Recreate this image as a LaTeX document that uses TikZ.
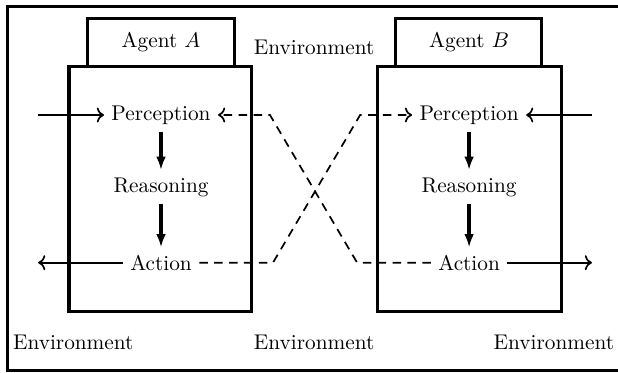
\documentclass[tikz,border=0pt]{standalone}
\usetikzlibrary{arrows.meta}
\begin{document}
\begin{tikzpicture}[
    agentbox/.style={line width=1.5pt},
    flow/.style={thick, ->},
    think/.style={line width=1.6pt, -{Latex[length=2.2mm,width=1.6mm]}},
    cross/.style={thick, dash pattern=on 4pt off 3pt, ->}]
    \useasboundingbox (0,0) rectangle (10.21,6.16);
    % Rahmen der Umgebung (rechts offen)
    \draw[line width=1.3pt] (10.5,6.05) -- (0.13,6.05) -- (0.13,0.04) -- (10.5,0.04);

    % Agent A
    \draw[agentbox] (1.14,1.01) rectangle (4.16,5.06);
    \draw[agentbox] (1.45,5.06) rectangle (3.87,5.85);
    \node (titleA) at (2.66,5.47) {Agent $A$};
    \node (percA) at (2.66,4.26) {Perception};
    \node (reasA) at (2.66,3.07) {Reasoning};
    \node (actA) at (2.66,1.82) {Action};
    \coordinate (inA) at (0.63,4.26);
    \coordinate (outA) at (0.63,1.82);
    \draw[flow] (inA) -- (percA);
    \draw[flow] (actA) -- (outA);
    \draw[think] (percA) -- (reasA);
    \draw[think] (reasA) -- (actA);

    % Agent B
    \draw[agentbox] (6.23,1.01) rectangle (9.27,5.06);
    \draw[agentbox] (6.54,5.06) rectangle (8.95,5.85);
    \node (titleB) at (7.75,5.47) {Agent $B$};
    \node (percB) at (7.75,4.26) {Perception};
    \node (reasB) at (7.75,3.07) {Reasoning};
    \node (actB) at (7.75,1.82) {Action};
    \coordinate (inB) at (9.78,4.26);
    \coordinate (outB) at (9.78,1.82);
    \draw[flow] (inB) -- (percB);
    \draw[flow] (actB) -- (outB);
    \draw[think] (percB) -- (reasB);
    \draw[think] (reasB) -- (actB);

    % Kreuzung: Aktion des einen wird Wahrnehmung des anderen
    \coordinate (kA1) at (4.51,1.82);
    \coordinate (kA2) at (5.95,4.26);
    \coordinate (kB1) at (5.90,1.82);
    \coordinate (kB2) at (4.46,4.26);
    \draw[cross] (actA) -- (kA1) -- (kA2) -- (percB);
    \draw[cross] (actB) -- (kB1) -- (kB2) -- (percA);

    % Umgebung
    \node (envTop) at (5.19,5.37) {Environment};
    \node (envLeft) at (1.21,0.50) {Environment};
    \node (envMid) at (5.19,0.50) {Environment};
    \node (envRight) at (9.15,0.50) {Environment};
\end{tikzpicture}
\end{document}
